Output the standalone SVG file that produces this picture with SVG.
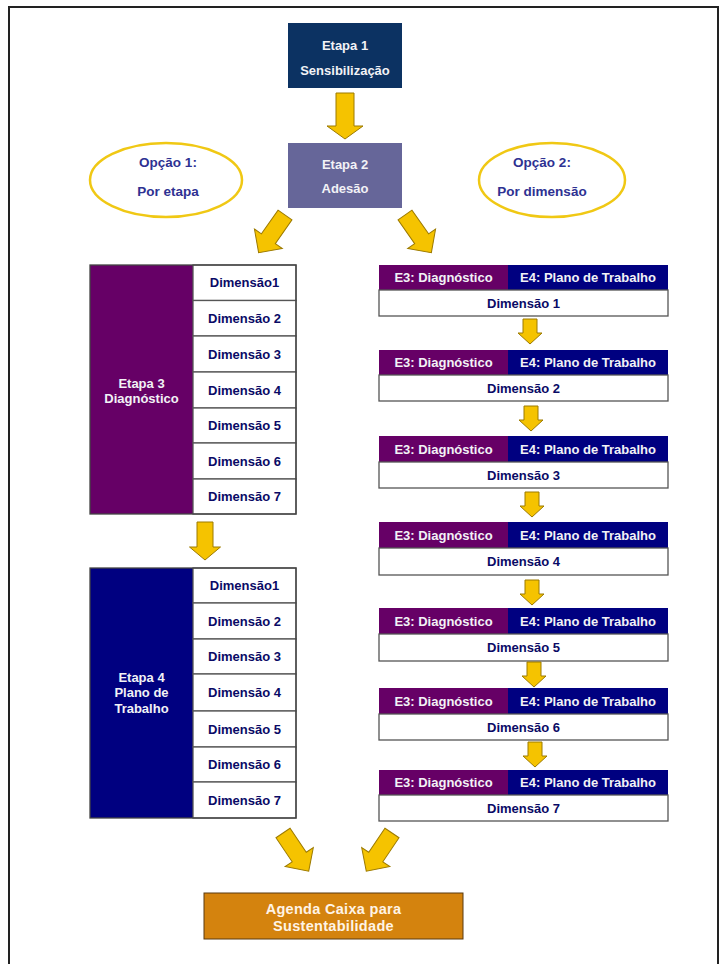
<svg xmlns="http://www.w3.org/2000/svg" xmlns:xlink="http://www.w3.org/1999/xlink" width="721" height="964" viewBox="0 0 721 964">
<style>
text{font-family:"Liberation Sans",Arial,sans-serif;font-weight:bold;font-size:13px;text-anchor:middle}
.w{fill:#f2f2f6}
.dim{fill:#0a0a66}
.opt{fill:#2e3192;font-size:13.5px}
.cell{fill:#ffffff;stroke:#555555;stroke-width:1.3}
.arr{fill:#f5c300;stroke:#9c7a00;stroke-width:1}
.ell{fill:#ffffff;stroke:#f0c814;stroke-width:2.5}
.pur{fill:#660066}
.nav{fill:#000080}
</style>
<defs>
<polygon id="sa" points="-7,0 7,0 7,14 12,14 0,25 -12,14 -7,14"/>
<polygon id="da" points="-8.5,0 8.5,0 8.5,29 17,29 0,46 -17,29 -8.5,29"/>
</defs>
<rect x="9" y="7" width="709" height="970" fill="#ffffff" stroke="#222222" stroke-width="2"/>

<g id="etapa1">
<rect x="288" y="23" width="114" height="65" fill="#0c3262"/>
<text class="w" x="345" y="50">Etapa 1</text>
<text class="w" x="345" y="75">Sensibilização</text>
</g>

<g id="etapa2">
<rect x="288" y="143" width="114" height="65" fill="#666699"/>
<text class="w" x="345" y="169">Etapa 2</text>
<text class="w" x="345" y="193">Adesão</text>
</g>

<g id="opcao1">
<ellipse class="ell" cx="166" cy="180" rx="76" ry="37"/>
<text class="opt" x="168" y="167">Opção 1:</text>
<text class="opt" x="168" y="196">Por etapa</text>
</g>

<g id="opcao2">
<ellipse class="ell" cx="552" cy="180" rx="73" ry="37"/>
<text class="opt" x="542" y="167">Opção 2:</text>
<text class="opt" x="542" y="196">Por dimensão</text>
</g>

<g id="etapa3">
<rect class="pur" x="90" y="265" width="103" height="249"/>
<rect class="cell" x="193" y="265" width="103" height="35.5"/>
<rect class="cell" x="193" y="300.5" width="103" height="35.5"/>
<rect class="cell" x="193" y="336" width="103" height="36"/>
<rect class="cell" x="193" y="372" width="103" height="36"/>
<rect class="cell" x="193" y="408" width="103" height="35"/>
<rect class="cell" x="193" y="443" width="103" height="36"/>
<rect class="cell" x="193" y="479" width="103" height="35"/>
<rect x="90" y="265" width="206" height="249" fill="none" stroke="#444444" stroke-width="1.3"/>
<text class="w" x="141.5" y="388">Etapa 3</text>
<text class="w" x="141.5" y="403">Diagnóstico</text>
<text class="dim" x="244.5" y="287">Dimensão1</text>
<text class="dim" x="244.5" y="323">Dimensão 2</text>
<text class="dim" x="244.5" y="359">Dimensão 3</text>
<text class="dim" x="244.5" y="395">Dimensão 4</text>
<text class="dim" x="244.5" y="430">Dimensão 5</text>
<text class="dim" x="244.5" y="466">Dimensão 6</text>
<text class="dim" x="244.5" y="501">Dimensão 7</text>
</g>

<g id="etapa4">
<rect class="nav" x="90" y="568" width="103" height="250"/>
<rect class="cell" x="193" y="568" width="103" height="35"/>
<rect class="cell" x="193" y="603" width="103" height="36"/>
<rect class="cell" x="193" y="639" width="103" height="35"/>
<rect class="cell" x="193" y="674" width="103" height="37"/>
<rect class="cell" x="193" y="711" width="103" height="36"/>
<rect class="cell" x="193" y="747" width="103" height="35"/>
<rect class="cell" x="193" y="782" width="103" height="36"/>
<rect x="90" y="568" width="206" height="250" fill="none" stroke="#444444" stroke-width="1.3"/>
<text class="w" x="141.5" y="682">Etapa 4</text>
<text class="w" x="141.5" y="697">Plano de</text>
<text class="w" x="141.5" y="713">Trabalho</text>
<text class="dim" x="244.5" y="590">Dimensão1</text>
<text class="dim" x="244.5" y="626">Dimensão 2</text>
<text class="dim" x="244.5" y="661">Dimensão 3</text>
<text class="dim" x="244.5" y="697">Dimensão 4</text>
<text class="dim" x="244.5" y="734">Dimensão 5</text>
<text class="dim" x="244.5" y="769">Dimensão 6</text>
<text class="dim" x="244.5" y="805">Dimensão 7</text>
</g>

<g id="dim1">
<rect class="pur" x="379" y="265" width="129" height="25"/>
<rect class="nav" x="508" y="265" width="160" height="25"/>
<rect class="cell" x="379" y="290" width="289" height="26"/>
<text class="w" x="443.5" y="282">E3: Diagnóstico</text>
<text class="w" x="588" y="282">E4: Plano de Trabalho</text>
<text class="dim" x="523.5" y="308">Dimensão 1</text>
</g>
<g id="dim2">
<rect class="pur" x="379" y="350" width="129" height="25"/>
<rect class="nav" x="508" y="350" width="160" height="25"/>
<rect class="cell" x="379" y="375" width="289" height="26"/>
<text class="w" x="443.5" y="367">E3: Diagnóstico</text>
<text class="w" x="588" y="367">E4: Plano de Trabalho</text>
<text class="dim" x="523.5" y="393">Dimensão 2</text>
</g>
<g id="dim3">
<rect class="pur" x="379" y="436" width="129" height="26"/>
<rect class="nav" x="508" y="436" width="160" height="26"/>
<rect class="cell" x="379" y="462" width="289" height="26"/>
<text class="w" x="443.5" y="454">E3: Diagnóstico</text>
<text class="w" x="588" y="454">E4: Plano de Trabalho</text>
<text class="dim" x="523.5" y="480">Dimensão 3</text>
</g>
<g id="dim4">
<rect class="pur" x="379" y="522" width="129" height="26"/>
<rect class="nav" x="508" y="522" width="160" height="26"/>
<rect class="cell" x="379" y="548" width="289" height="27"/>
<text class="w" x="443.5" y="540">E3: Diagnóstico</text>
<text class="w" x="588" y="540">E4: Plano de Trabalho</text>
<text class="dim" x="523.5" y="566">Dimensão 4</text>
</g>
<g id="dim5">
<rect class="pur" x="379" y="608" width="129" height="26"/>
<rect class="nav" x="508" y="608" width="160" height="26"/>
<rect class="cell" x="379" y="634" width="289" height="27"/>
<text class="w" x="443.5" y="626">E3: Diagnóstico</text>
<text class="w" x="588" y="626">E4: Plano de Trabalho</text>
<text class="dim" x="523.5" y="652">Dimensão 5</text>
</g>
<g id="dim6">
<rect class="pur" x="379" y="688" width="129" height="26"/>
<rect class="nav" x="508" y="688" width="160" height="26"/>
<rect class="cell" x="379" y="714" width="289" height="26"/>
<text class="w" x="443.5" y="706">E3: Diagnóstico</text>
<text class="w" x="588" y="706">E4: Plano de Trabalho</text>
<text class="dim" x="523.5" y="732">Dimensão 6</text>
</g>
<g id="dim7">
<rect class="pur" x="379" y="770" width="129" height="25"/>
<rect class="nav" x="508" y="770" width="160" height="25"/>
<rect class="cell" x="379" y="795" width="289" height="26"/>
<text class="w" x="443.5" y="787">E3: Diagnóstico</text>
<text class="w" x="588" y="787">E4: Plano de Trabalho</text>
<text class="dim" x="523.5" y="813">Dimensão 7</text>
</g>

<g id="agenda">
<rect x="204" y="893" width="259" height="46" fill="#d4830e" stroke="#5a3a10" stroke-width="1"/>
<text x="333.5" y="913.5" fill="#fff4e6" style="font-size:14.5px;letter-spacing:0.3px">Agenda Caixa para</text>
<text x="333.5" y="931" fill="#fff4e6" style="font-size:14.5px;letter-spacing:0.3px">Sustentabilidade</text>
</g>

<g id="connectors">
<polygon class="arr" points="336,93 354,93 354,126 363,126 345,139 327,126 336,126"/>
<use class="arr" href="#da" xlink:href="#da" transform="translate(285,215) rotate(35)"/>
<use class="arr" href="#da" xlink:href="#da" transform="translate(405,215) rotate(-35)"/>
<polygon class="arr" points="197,522 213,522 213,547 220.5,547 205,560 189.5,547 197,547"/>
<use class="arr" href="#sa" xlink:href="#sa" transform="translate(530,319)"/>
<use class="arr" href="#sa" xlink:href="#sa" transform="translate(531,406)"/>
<use class="arr" href="#sa" xlink:href="#sa" transform="translate(532,492)"/>
<use class="arr" href="#sa" xlink:href="#sa" transform="translate(532,580)"/>
<use class="arr" href="#sa" xlink:href="#sa" transform="translate(534,662)"/>
<use class="arr" href="#sa" xlink:href="#sa" transform="translate(535,742)"/>
<use class="arr" href="#da" xlink:href="#da" transform="translate(283,833) rotate(-34)"/>
<use class="arr" href="#da" xlink:href="#da" transform="translate(392,833) rotate(34)"/>
</g>
</svg>
